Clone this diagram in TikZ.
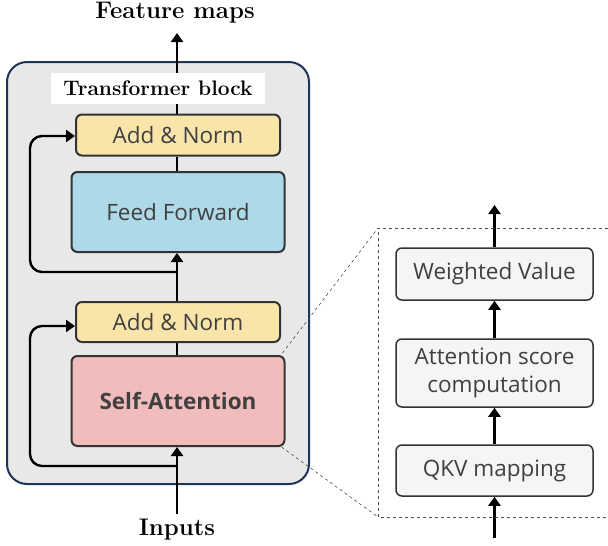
\documentclass[tikz,border=0pt]{standalone}
\usepackage{fontspec}
\usepackage{tikz}
\usetikzlibrary{arrows.meta}
\newfontfamily\boxfont{Open Sans}
\definecolor{blockbg}{HTML}{E8E8E8}
\definecolor{blockline}{HTML}{1F3557}
\definecolor{normfill}{HTML}{F9E5AA}
\definecolor{fffill}{HTML}{ADD9E8}
\definecolor{safill}{HTML}{F0BCBC}
\definecolor{subfill}{HTML}{F5F5F5}
\definecolor{boxtext}{HTML}{404040}
\begin{document}
\begin{tikzpicture}[x=1pt,y=-1pt,
  layer/.style={draw=black!80, line width=2pt, rounded corners=6pt, text=boxtext,
    font=\boxfont\fontsize{22.5}{27}\selectfont, inner sep=0pt},
  substep/.style={draw=black!80, line width=1.5pt, rounded corners=6pt, fill=subfill,
    text=boxtext, font=\boxfont\fontsize{22.5}{27.5}\selectfont, align=center,
    minimum width=197pt, inner sep=0pt},
  flow/.style={line width=2.4pt, -{Triangle[width=12pt,length=9pt]}},
  link/.style={line width=2.4pt},
  zoomline/.style={dashed, line width=0.6pt, black!70},
  title/.style={font=\bfseries\fontsize{24}{28}\selectfont}]
  \useasboundingbox (0,0) rectangle (608,546);

  % Transformer block frame
  \node[draw=blockline, fill=blockbg, line width=2pt, rounded corners=20pt,
    minimum width=302pt, minimum height=422pt, inner sep=0pt] (blk) at (158,273) {};

  % Layers
  \node[layer, fill=normfill, minimum width=204pt, minimum height=41pt] (n2) at (178,135) {Add \& Norm};
  \node[layer, fill=fffill, minimum width=213pt, minimum height=80pt] (ff) at (178,212) {Feed Forward};
  \node[layer, fill=normfill, minimum width=204pt, minimum height=40pt] (n1) at (178,322) {Add \& Norm};
  \node[layer, fill=safill, minimum width=213pt, minimum height=90pt,
    font=\boxfont\bfseries\fontsize{22.5}{27}\selectfont] (sa) at (178,401) {Self-Attention};

  % Outer labels
  \node[title] (out) at (175,13) {Feature maps};
  \node[title] (inp) at (177,530) {Inputs};
  \coordinate (top) at (177,33);
  \coordinate (bot) at (177,514);
  \coordinate (j1) at (177,466);
  \coordinate (j2) at (177,272);

  % Main path
  \draw[flow] (bot) -- (sa.south -| bot);
  \draw[link] (sa.north -| bot) -- (n1.south -| bot);
  \draw[flow] (n1.north -| bot) -- (ff.south -| bot);
  \draw[link] (ff.north -| bot) -- (n2.south -| bot);
  \draw[flow] (n2.north -| bot) -- (top);

  % Block label (covers the main path)
  \node[fill=white, minimum width=214pt, minimum height=31pt, inner sep=0pt,
    font=\bfseries\fontsize{21}{24}\selectfont] (lbl) at (158,88) {Transformer block};

  % Residual paths
  \draw[flow, rounded corners=12pt] (j1) -- (30,466) -- (30,326) -- (n1.west |- 0,326);
  \draw[flow, rounded corners=12pt] (j2) -- (30,272) -- (30,136) -- (n2.west |- 0,136);

  % Self-attention detail
  \node[substep, minimum height=52pt] (wv) at (494.5,274) {Weighted Value};
  \node[substep, minimum height=68pt] (asc) at (494.5,373) {Attention score\\computation};
  \node[substep, minimum height=51pt] (qkv) at (494.5,470.5) {QKV mapping};
  \coordinate (din) at (494.5,538);
  \coordinate (dout) at (494.5,205);
  \draw[flow] (din) -- (qkv);
  \draw[flow] (qkv) -- (asc);
  \draw[flow] (asc) -- (wv);
  \draw[flow] (wv) -- (dout);

  % Zoom frame
  \coordinate (za) at (378,228);
  \coordinate (zb) at (378,517);
  \draw[zoomline] (608,228) -- (za) -- (zb) -- (608,517);
  \draw[zoomline] (sa.north east) ++(-3,-2) -- (za);
  \draw[zoomline] (sa.south east) ++(-4,0) -- (zb);
\end{tikzpicture}
\end{document}
